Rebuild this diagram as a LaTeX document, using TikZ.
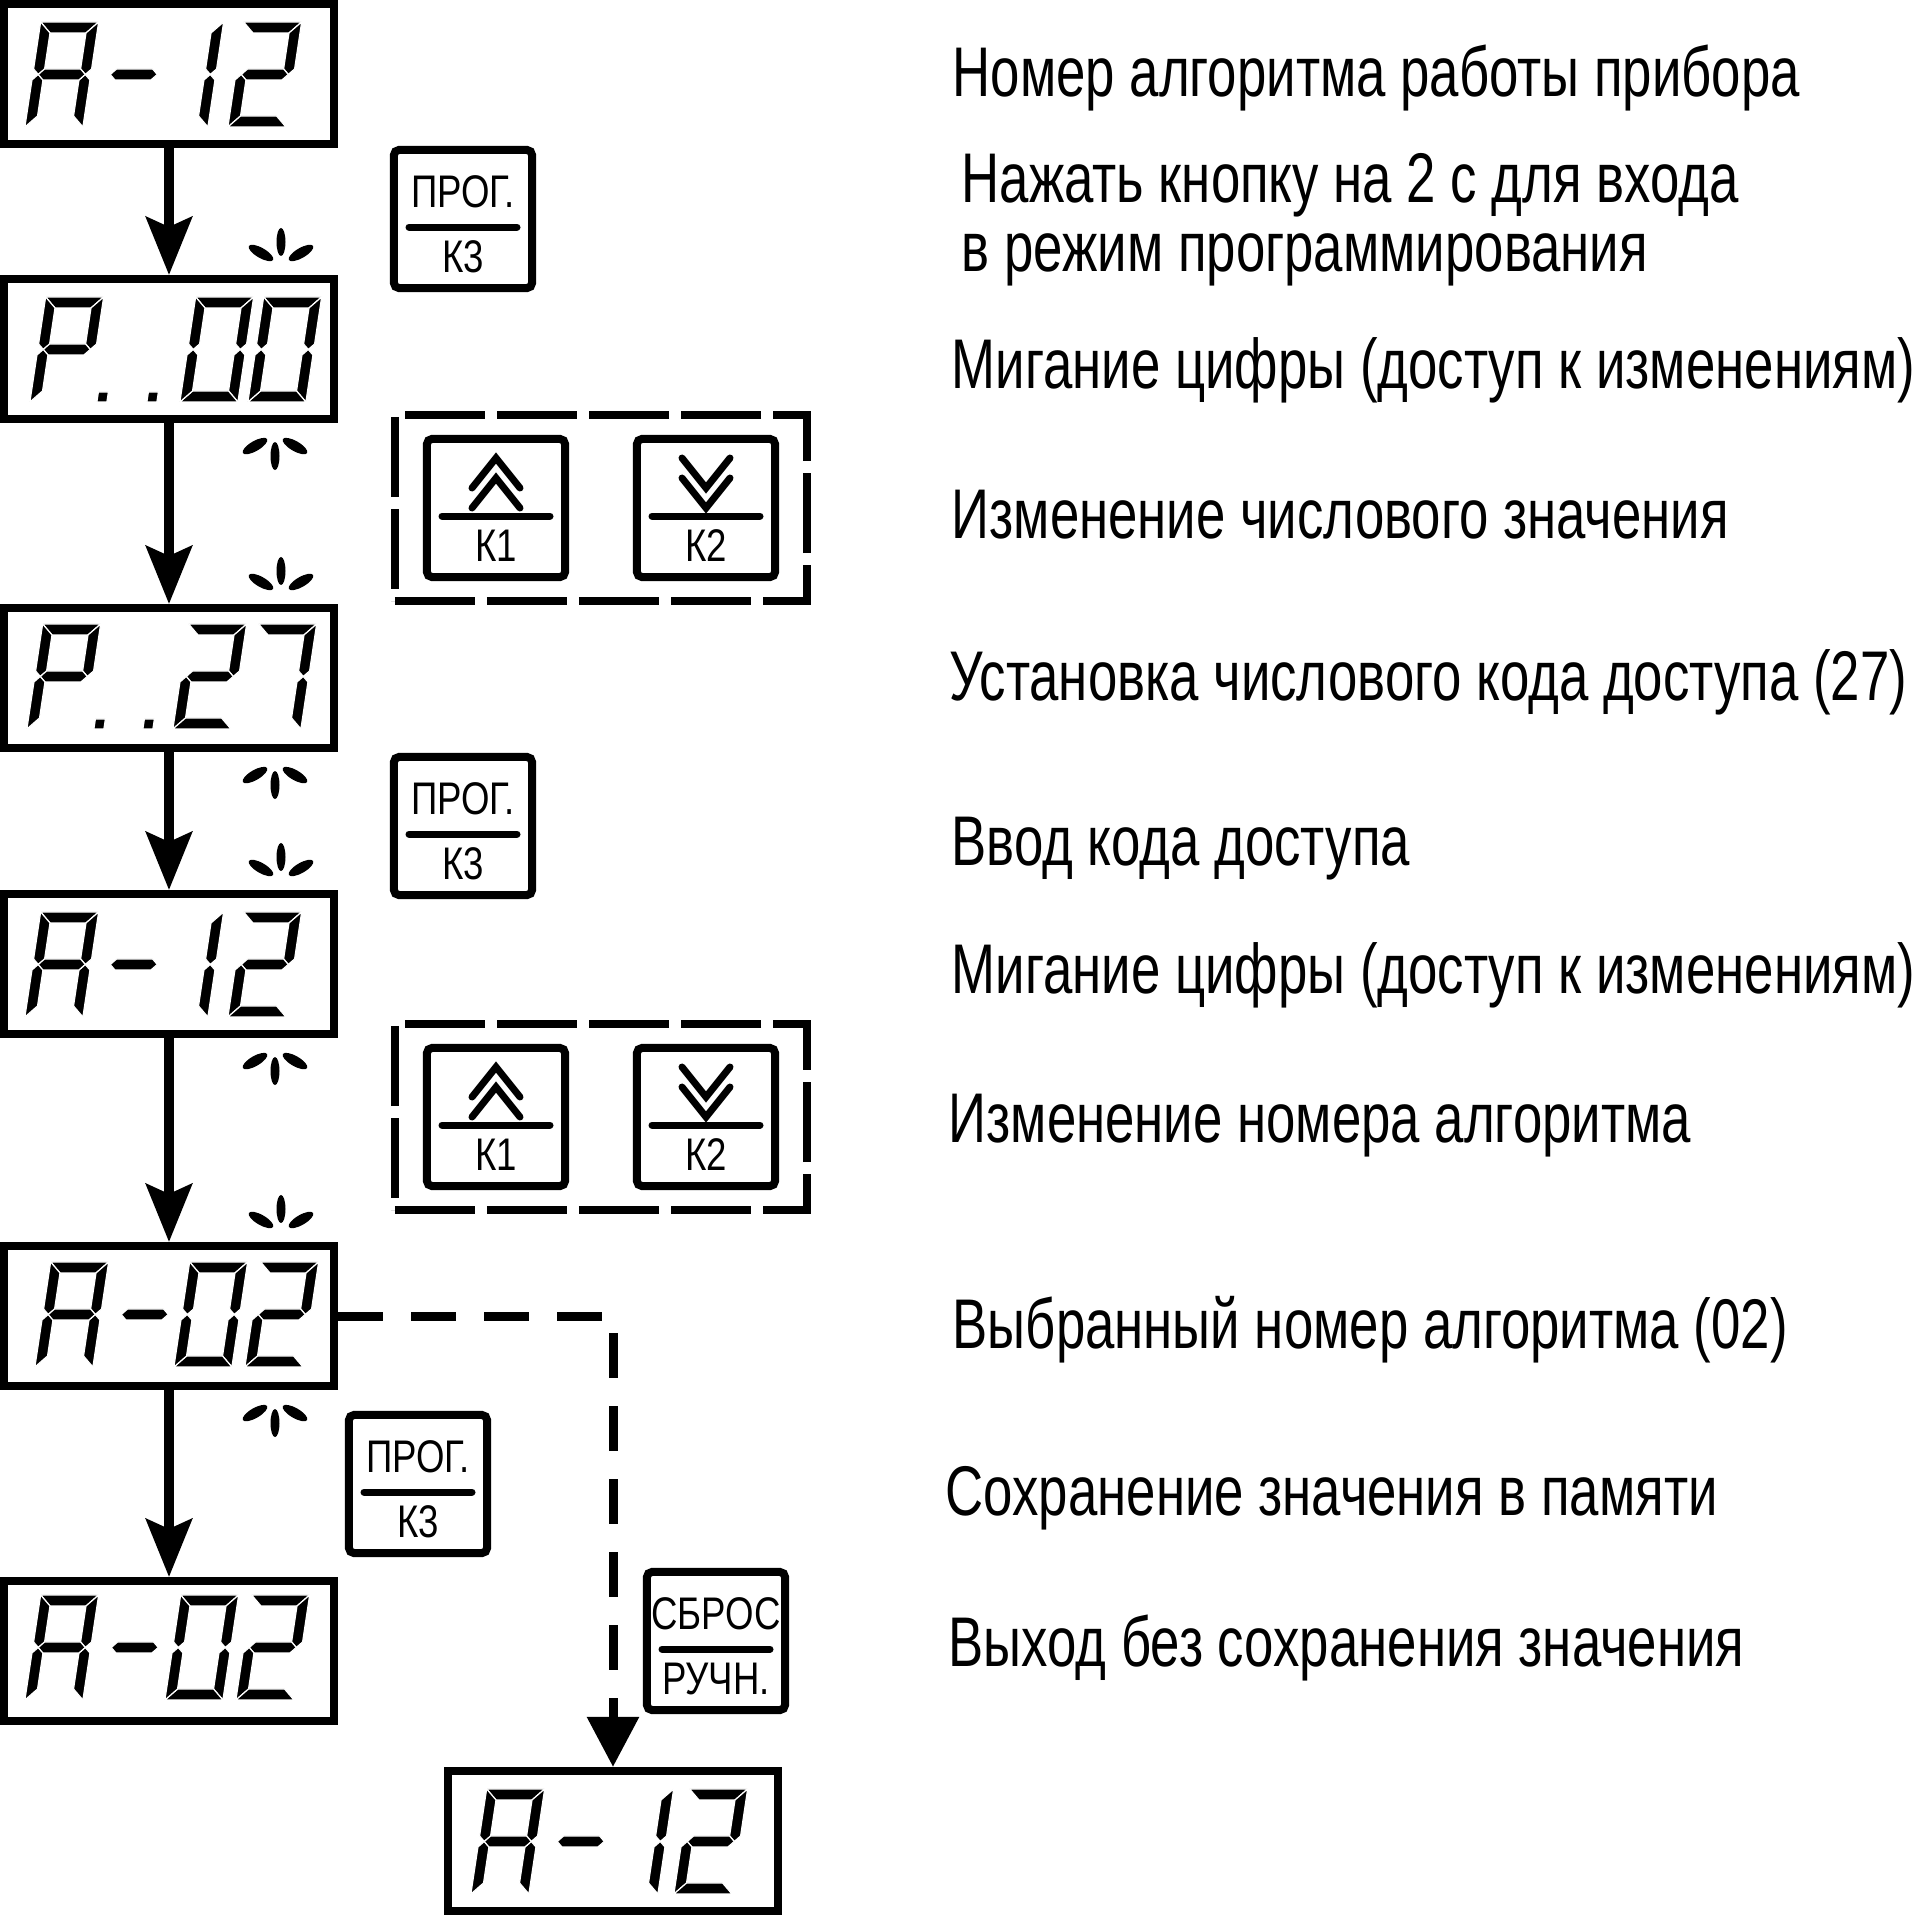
\documentclass[tikz,border=0pt]{standalone}
\usepackage{fontspec}
\setmainfont[FakeStretch=0.75]{Liberation Sans}
\newfontfamily\keyfont[FakeStretch=0.8]{Liberation Sans}
\usetikzlibrary{arrows.meta, calc, positioning}

\tikzset{
    segment/.style={fill=black, draw=white, line width=0.012cm},
    seg a/.pic={\path[segment] (0,105) -- (58,105) -- (47,94) -- (11,94) -- cycle;},
    seg b/.pic={\path[segment] (58,105) -- (58,58) -- (52.5,52.5) -- (47,58) -- (47,94) -- cycle;},
    seg c/.pic={\path[segment] (58,0) -- (58,47) -- (52.5,52.5) -- (47,47) -- (47,11) -- cycle;},
    seg d/.pic={\path[segment] (0,0) -- (58,0) -- (47,11) -- (11,11) -- cycle;},
    seg e/.pic={\path[segment] (0,0) -- (0,47) -- (5.5,52.5) -- (11,47) -- (11,11) -- cycle;},
    seg f/.pic={\path[segment] (0,105) -- (0,58) -- (5.5,52.5) -- (11,58) -- (11,94) -- cycle;},
    seg g/.pic={\path[segment] (5.5,52.5) -- (11,58) -- (47,58) -- (52.5,52.5) -- (47,47) -- (11,47) -- cycle;},
    seg p/.pic={\path[segment] (67,0) -- (77,0) -- (77,10) -- (67,10) -- cycle;},
    % blinking marks
    blink above/.pic={
        \fill (0,33) ellipse [x radius=4.5, y radius=14];
        \fill[rotate around={-30:(-20,22)}] (-20,22) ellipse [x radius=14, y radius=5];
        \fill[rotate around={30:(20,22)}] (20,22) ellipse [x radius=14, y radius=5];
    },
    blink below/.pic={
        \fill (0,-33) ellipse [x radius=4.5, y radius=14];
        \fill[rotate around={30:(-20,-23)}] (-20,-23) ellipse [x radius=14, y radius=5];
        \fill[rotate around={-30:(20,-23)}] (20,-23) ellipse [x radius=14, y radius=5];
    }
}

% one character of a display: node, x offset, baseline offset, segments
\newcommand\lcd[4]{%
    \begin{scope}[shift={($(#1.north west)+(#2,-#3)$)}, xslant=0.15]
        \foreach \s in {#4}{\edef\segnext{\noexpand\pic[transform shape]{seg \s};}\segnext}
    \end{scope}}

% key with two words
\newcommand\txtkey[5]{%
    \node[key] (#1) at (#2,#3) {};
    \node[keytext] at ($(#1.center)+(0,27)$) {#4};
    \draw[keybar] ($(#1.center)+(-54,-8)$) -- ($(#1.center)+(54,-8)$);
    \node[keytext] at ($(#1.center)+(0,-38)$) {#5};}

% key with chevrons up
\newcommand\upkey[4]{%
    \node[key] (#1) at (#2,#3) {};
    \foreach \o in {0,20}
        \draw[chevron] ($(#1.center)+(-24,\o)$) -- ($(#1.center)+(0,\o+30)$) -- ($(#1.center)+(24,\o)$);
    \draw[keybar] ($(#1.center)+(-54,-8)$) -- ($(#1.center)+(54,-8)$);
    \node[keytext] at ($(#1.center)+(0,-38)$) {#4};}

% key with chevrons down
\newcommand\downkey[4]{%
    \node[key] (#1) at (#2,#3) {};
    \foreach \o in {0,20}
        \draw[chevron] ($(#1.center)+(-24,\o+30)$) -- ($(#1.center)+(0,\o)$) -- ($(#1.center)+(24,\o+30)$);
    \draw[keybar] ($(#1.center)+(-54,-8)$) -- ($(#1.center)+(54,-8)$);
    \node[keytext] at ($(#1.center)+(0,-38)$) {#4};}

\begin{document}
\begin{tikzpicture}[
    x=0.01cm, y=0.01cm,
    display/.style={draw, line width=0.08cm, minimum width=3.3cm, minimum height=1.4cm, inner sep=0pt},
    key/.style={draw, line width=0.08cm, rounded corners=0.05cm, minimum size=1.38cm, inner sep=0pt},
    keygroup/.style={draw, line width=0.08cm, dash pattern=on 0.8cm off 0.12cm, minimum width=4.12cm, minimum height=1.86cm},
    keytext/.style={font=\keyfont\fontsize{13pt}{15pt}\selectfont, inner sep=0pt},
    keybar/.style={line width=0.07cm, line cap=round},
    chevron/.style={line width=0.07cm, line cap=round, line join=miter},
    arrow/.style={line width=0.09cm, -{Stealth[length=0.58cm, width=0.46cm, inset=0.1cm]}},
    dasharrow/.style={line width=0.09cm, dash pattern=on 0.45cm off 0.28cm, -{Triangle[length=0.5cm, width=0.5cm]}},
    label/.style={anchor=base west, inner sep=0pt, font=\fontsize{20pt}{19.6pt}\selectfont}
]
\useasboundingbox (0,0) rectangle (1917,-1917);

% Displays
\node[display] (disp1) at (169,-74) {};
\node[display] (disp2) at (169,-349) {};
\node[display] (disp3) at (169,-678) {};
\node[display] (disp4) at (169,-964) {};
\node[display] (disp5) at (169,-1316) {};
\node[display] (disp6) at (169,-1651) {};
\node[display] (disp7) at (613,-1841) {};

% A-12
\lcd{disp1}{25}{127}{a,b,c,e,f,g}
\lcd{disp1}{97}{127}{g}
\lcd{disp1}{150}{127}{b,c}
\lcd{disp1}{228}{127}{a,b,g,e,d}
% P..00
\lcd{disp2}{30}{127}{a,b,f,g,e,p}
\lcd{disp2}{80}{127}{p}
\lcd{disp2}{180}{127}{a,b,c,d,e,f}
\lcd{disp2}{248}{127}{a,b,c,d,e,f}
% P..27
\lcd{disp3}{27}{125}{a,b,f,g,e,p}
\lcd{disp3}{76}{125}{p}
\lcd{disp3}{173}{125}{a,b,g,e,d}
\lcd{disp3}{243}{125}{a,b,c}
% A-12
\lcd{disp4}{25}{127}{a,b,c,e,f,g}
\lcd{disp4}{97}{127}{g}
\lcd{disp4}{150}{127}{b,c}
\lcd{disp4}{228}{127}{a,b,g,e,d}
% A-02
\lcd{disp5}{35}{125}{a,b,c,e,f,g}
\lcd{disp5}{108}{125}{g}
\lcd{disp5}{174}{125}{a,b,c,d,e,f}
\lcd{disp5}{245}{125}{a,b,g,e,d}
% A-02
\lcd{disp6}{25}{123}{a,b,c,e,f,g}
\lcd{disp6}{98}{123}{g}
\lcd{disp6}{165}{123}{a,b,c,d,e,f}
\lcd{disp6}{236}{123}{a,b,g,e,d}
% A-12
\lcd{disp7}{27}{127}{a,b,c,e,f,g}
\lcd{disp7}{100}{127}{g}
\lcd{disp7}{156}{127}{b,c}
\lcd{disp7}{230}{127}{a,b,g,e,d}

% Blinking digits
\foreach \n in {2,...,5}{
    \pic at ($(disp\n.north)+(112,0)$) {blink above};
    \pic at ($(disp\n.south)+(106,0)$) {blink below};
}

% Keys
\txtkey{prog1}{463}{-219}{ПРОГ.}{К3}
\node[keygroup] (grp1) at (601,-508) {};
\upkey{up1}{496}{-508}{К1}
\downkey{down1}{706}{-508}{К2}
\txtkey{prog2}{463}{-826}{ПРОГ.}{К3}
\node[keygroup] (grp2) at (601,-1117) {};
\upkey{up2}{496}{-1117}{К1}
\downkey{down2}{706}{-1117}{К2}
\txtkey{prog3}{418}{-1484}{ПРОГ.}{К3}
\txtkey{reset}{716}{-1641}{СБРОС}{РУЧН.}

% Arrows
\draw[arrow] (disp1) -- (disp2);
\draw[arrow] (disp2) -- (disp3);
\draw[arrow] (disp3) -- (disp4);
\draw[arrow] (disp4) -- (disp5);
\draw[arrow] (disp5) -- (disp6);
\draw[dasharrow] (disp5.east) -| (disp7.north);

% Labels
\node[label] (txt1) at (952,-96) {Номер алгоритма работы прибора};
\node[label, align=left] (txt2) at (961,-271) {Нажать кнопку на 2 с для входа\\в режим программирования};
\node[label] (txt3) at (951,-388) {Мигание цифры (доступ к изменениям)};
\node[label] (txt4) at (951,-538) {Изменение числового значения};
\node[label] (txt5) at (949,-700) {Установка числового кода доступа (27)};
\node[label] (txt6) at (951,-865) {Ввод кода доступа};
\node[label] (txt7) at (951,-993) {Мигание цифры (доступ к изменениям)};
\node[label] (txt8) at (948,-1142) {Изменение номера алгоритма};
\node[label] (txt9) at (952,-1348) {Выбранный номер алгоритма (02)};
\node[label] (txt10) at (945,-1515) {Сохранение значения в памяти};
\node[label] (txt11) at (948,-1666) {Выход без сохранения значения};

\end{tikzpicture}
\end{document}
